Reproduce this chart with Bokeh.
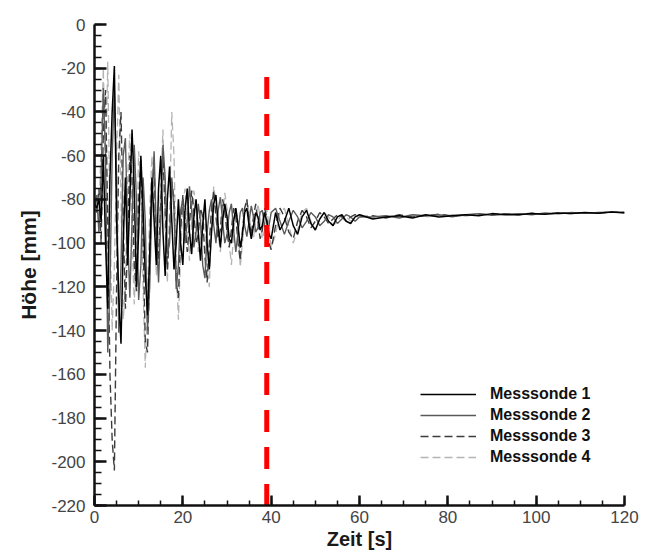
import numpy as np
from bokeh.plotting import figure
from bokeh.models import SingleIntervalTicker, Legend, LegendItem, Range1d
from bokeh.embed import file_html
from bokeh.resources import INLINE

# ---------------- data ----------------
# sampling grid of the probes (s)
zeit = np.concatenate([np.arange(0, 40.5, 0.5), np.arange(41, 61, 1), np.arange(63, 121, 3)])

sonde1 = [
    -82, -84, -80, -90, -60, -100, -130, -70, -40, -19,
    -90, -125, -146, -100, -70, -110, -80, -48, -75, -120,
    -95, -60, -85, -115, -133, -105, -70, -90, -110, -75,
    -60, -95, -115, -80, -65, -90, -112, -100, -80, -100,
    -110, -85, -75, -95, -105, -88, -80, -95, -108, -92,
    -80, -100, -112, -95, -82, -78, -92, -102, -90, -82,
    -88, -98, -100, -90, -84, -92, -102, -96, -86, -84,
    -92, -98, -92, -86, -88, -94, -92, -86, -90, -96,
    -98,
    -86, -94, -90, -84, -92, -96, -88, -85, -91, -94,
    -89, -86, -90, -92, -88, -87, -90, -91, -88, -87,
    -89, -88, -87.5, -88.5, -87, -88, -87.5, -87, -87.5, -86.5,
    -87, -87, -86.5, -86.8, -86.2, -86.5, -86, -86.3, -85.8, -86,
]
sonde2 = [
    -84, -78, -95, -70, -29, -60, -150, -120, -60, -30,
    -70, -141, -110, -60, -52, -95, -125, -90, -55, -80,
    -126, -110, -70, -90, -140, -120, -80, -58, -95, -118,
    -90, -55, -70, -105, -100, -70, -85, -121, -110, -85,
    -80, -100, -90, -74, -85, -102, -95, -82, -90, -110,
    -116, -95, -85, -80, -92, -100, -85, -79, -90, -100,
    -96, -86, -82, -94, -104, -95, -86, -84, -92, -97,
    -90, -83, -88, -95, -93, -86, -85, -92, -97, -92,
    -86,
    -84, -90, -96, -90, -85, -88, -93, -90, -86, -88,
    -92, -90, -87, -88, -91, -89, -87, -88, -90, -88,
    -88, -87.5, -88.5, -87, -87.5, -87, -88, -87, -86.5, -87.3,
    -86.8, -86.5, -87, -86.2, -86.6, -86, -86.4, -86, -85.8, -86.2,
]
sonde3 = [
    -80, -86, -75, -100, -50, -30, -90, -160, -190, -204,
    -120, -60, -40, -90, -130, -100, -60, -70, -110, -122,
    -80, -62, -100, -145, -150, -110, -75, -65, -100, -108,
    -80, -60, -85, -112, -95, -72, -80, -118, -125, -95,
    -78, -90, -104, -92, -76, -86, -100, -96, -84, -88,
    -106, -118, -100, -84, -76, -88, -98, -94, -80, -85,
    -95, -102, -94, -84, -88, -100, -108, -94, -84, -80,
    -90, -96, -88, -82, -90, -98, -94, -84, -88, -100,
    -103,
    -92, -84, -88, -95, -98, -90, -85, -88, -93, -90,
    -86, -88, -91, -89, -87, -88, -90, -88, -87, -88,
    -87.5, -88.5, -87, -88, -87.5, -86.8, -87.5, -87.2, -86.8, -87,
    -86.5, -87, -86.3, -86.7, -86.2, -86.5, -86, -86.2, -85.9, -86,
]
sonde4 = [
    -85, -80, -88, -55, -20, -70, -17, -90, -140, -110,
    -60, -23, -80, -135, -120, -70, -50, -95, -128, -100,
    -58, -75, -120, -157, -125, -85, -60, -80, -115, -100,
    -72, -48, -95, -118, -85, -40, -60, -110, -135, -105,
    -82, -75, -92, -108, -90, -76, -84, -104, -100, -85,
    -90, -112, -120, -90, -74, -82, -96, -104, -88, -77,
    -84, -100, -110, -96, -84, -90, -111, -100, -86, -80,
    -86, -96, -98, -88, -82, -88, -98, -94, -84, -92,
    -102,
    -96, -86, -84, -92, -100, -94, -86, -84, -90, -94,
    -89, -86, -88, -92, -90, -87, -88, -90, -89, -87,
    -88.5, -87.5, -88, -87, -88, -87.3, -87, -87.6, -86.8, -87.2,
    -86.6, -86.9, -86.4, -86.8, -86.2, -86.5, -86.1, -86.3, -85.9, -86.1,
]
series_names = ["Messsonde 1", "Messsonde 2", "Messsonde 3", "Messsonde 4"]

marker_time = 39      # red dashed marker (s)
marker_top = -24      # upper end of marker (mm)

x_ticks = [0, 20, 40, 60, 80, 100, 120]
x_tick_labels = ["0", "20", "40", "60", "80", "100", "120"]
y_ticks = [0, -20, -40, -60, -80, -100, -120, -140, -160, -180, -200, -220]
y_tick_labels = ["0", "-20", "-40", "-60", "-80", "-100", "-120", "-140", "-160", "-180", "-200", "-220"]

# ---------------- figure ----------------
p = figure(width=640, height=552, output_backend="svg", toolbar_location=None,
           x_range=Range1d(0, 120), y_range=Range1d(-220, 0),
           min_border_left=94, min_border_right=16, min_border_top=24, min_border_bottom=47)
p.outline_line_color = None
p.xgrid.visible = False
p.ygrid.visible = False
p.background_fill_color = "white"
p.border_fill_color = "white"

styles = [
    dict(color="#000000", line_width=1.5, line_dash="solid"),
    dict(color="#5a5a5a", line_width=1.4, line_dash="solid"),
    dict(color="#3c3c3c", line_width=1.4, line_dash="8 4"),
    dict(color="#b4b4b4", line_width=1.3, line_dash="8 4"),
]
data = [sonde1, sonde2, sonde3, sonde4]
renderers = [None] * 4
for i in [3, 2, 1, 0]:
    renderers[i] = p.line(zeit, data[i], **styles[i])

p.line([marker_time, marker_time], [marker_top, -220], color="#ff0000",
       line_width=5, line_dash="22 15")

legend = Legend(items=[LegendItem(label=series_names[i], renderers=[renderers[i]]) for i in range(4)],
                location=(326, 38), orientation="vertical",
                glyph_width=56, glyph_height=20, label_height=20, spacing=1,
                label_standoff=14, padding=0, margin=0,
                border_line_color=None, background_fill_alpha=0,
                label_text_font="Liberation Sans", label_text_font_style="bold",
                label_text_font_size="16px", label_text_color="#111111")
p.add_layout(legend)

tick_font = "Liberation Sans"
for ax, ticks, labels, tin, min_in in [(p.xaxis[0], x_ticks, x_tick_labels, 10, 5),
                                        (p.yaxis[0], y_ticks, y_tick_labels, 12, 7)]:
    ax.ticker = SingleIntervalTicker(interval=20, num_minor_ticks=4)
    ax.major_label_overrides = {t: l for t, l in zip(ticks, labels)}
    ax.axis_line_width = 2.5
    ax.axis_line_color = "#111111"
    ax.major_tick_in = tin
    ax.major_tick_out = 0
    ax.minor_tick_in = min_in
    ax.minor_tick_out = 0
    ax.major_tick_line_width = 2.5
    ax.minor_tick_line_width = 1.5
    ax.major_tick_line_color = "#111111"
    ax.minor_tick_line_color = "#111111"
    ax.major_label_text_font = tick_font
    ax.major_label_text_color = "#444444"
    ax.axis_label_text_font = "Liberation Sans"
    ax.axis_label_text_font_style = "bold"
    ax.axis_label_text_color = "#1a1a1a"

p.xaxis.axis_label = "Zeit [s]"
p.yaxis.axis_label = "Höhe [mm]"
p.xaxis.major_label_text_font_size = "17px"
p.yaxis.major_label_text_font_size = "17px"
p.xaxis.major_label_standoff = 5
p.yaxis.major_label_standoff = 9
p.xaxis.axis_label_standoff = 2
p.yaxis.axis_label_standoff = 8
p.xaxis.axis_label_text_font_size = "20px"
p.yaxis.axis_label_text_font_size = "21px"

open("out.html", "w").write(file_html(p, INLINE))
